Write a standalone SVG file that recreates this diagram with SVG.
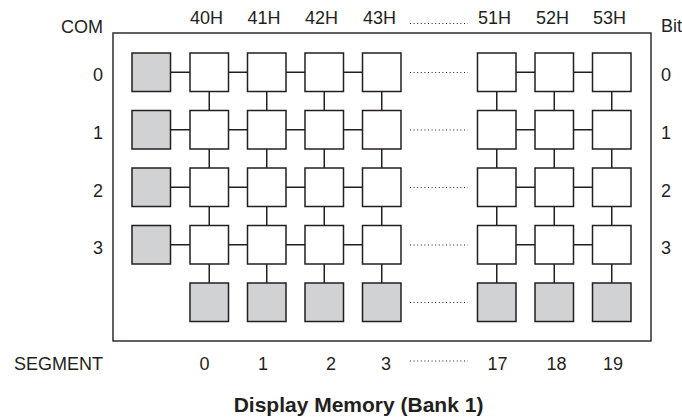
<svg xmlns="http://www.w3.org/2000/svg" width="682" height="417" viewBox="0 0 682 417">
<style>
.t{font-family:"Liberation Sans",Arial,sans-serif;font-size:18px;fill:#231f20}
.e{text-anchor:end}
.m{text-anchor:middle}
.title{font-family:"Liberation Sans",Arial,sans-serif;font-size:21px;font-weight:bold;fill:#231f20;text-anchor:middle}
.c{fill:#fff;stroke:#231f20;stroke-width:1.5}
.g{fill:#d1d2d4;stroke:#231f20;stroke-width:1.5}
.ln{stroke:#231f20;stroke-width:1.5;fill:none}
.dot{stroke:#231f20;stroke-width:1.2;stroke-dasharray:1 2.6;fill:none}
</style>
<rect x="0" y="0" width="682" height="417" fill="#fff"/>
<rect id="frame" x="113" y="33" width="538" height="308" fill="none" stroke="#231f20" stroke-width="1.4"/>
<g id="connectors">
<path class="ln" d="M170.5 72.25H190M228.5 72.25H247.5M286 72.25H305M343.5 72.25H362.5M516 72.25H535M573.5 72.25H592.5"/>
<path class="ln" d="M170.5 129.75H190M228.5 129.75H247.5M286 129.75H305M343.5 129.75H362.5M516 129.75H535M573.5 129.75H592.5"/>
<path class="ln" d="M170.5 187.25H190M228.5 187.25H247.5M286 187.25H305M343.5 187.25H362.5M516 187.25H535M573.5 187.25H592.5"/>
<path class="ln" d="M170.5 244.75H190M228.5 244.75H247.5M286 244.75H305M343.5 244.75H362.5M516 244.75H535M573.5 244.75H592.5"/>
<path class="ln" d="M209.25 91.5V283M266.75 91.5V283M324.25 91.5V283M381.75 91.5V283M496.75 91.5V283M554.25 91.5V283M611.75 91.5V283"/>
<path class="dot" d="M410 72.5H468M410 130H468M410 187.5H468M410 245H468M410 302.5H468M410 23.5H468M410 361H468"/>
</g>
<g id="com-cells">
<rect class="g" x="132" y="53" width="38.5" height="38.5"/>
<rect class="g" x="132" y="110.5" width="38.5" height="38.5"/>
<rect class="g" x="132" y="168" width="38.5" height="38.5"/>
<rect class="g" x="132" y="225.5" width="38.5" height="38.5"/>
</g>
<g id="cells">
<g id="row0">
<rect class="c" x="190" y="53" width="38.5" height="38.5"/><rect class="c" x="247.5" y="53" width="38.5" height="38.5"/><rect class="c" x="305" y="53" width="38.5" height="38.5"/><rect class="c" x="362.5" y="53" width="38.5" height="38.5"/><rect class="c" x="477.5" y="53" width="38.5" height="38.5"/><rect class="c" x="535" y="53" width="38.5" height="38.5"/><rect class="c" x="592.5" y="53" width="38.5" height="38.5"/>
</g>
<g id="row1">
<rect class="c" x="190" y="110.5" width="38.5" height="38.5"/><rect class="c" x="247.5" y="110.5" width="38.5" height="38.5"/><rect class="c" x="305" y="110.5" width="38.5" height="38.5"/><rect class="c" x="362.5" y="110.5" width="38.5" height="38.5"/><rect class="c" x="477.5" y="110.5" width="38.5" height="38.5"/><rect class="c" x="535" y="110.5" width="38.5" height="38.5"/><rect class="c" x="592.5" y="110.5" width="38.5" height="38.5"/>
</g>
<g id="row2">
<rect class="c" x="190" y="168" width="38.5" height="38.5"/><rect class="c" x="247.5" y="168" width="38.5" height="38.5"/><rect class="c" x="305" y="168" width="38.5" height="38.5"/><rect class="c" x="362.5" y="168" width="38.5" height="38.5"/><rect class="c" x="477.5" y="168" width="38.5" height="38.5"/><rect class="c" x="535" y="168" width="38.5" height="38.5"/><rect class="c" x="592.5" y="168" width="38.5" height="38.5"/>
</g>
<g id="row3">
<rect class="c" x="190" y="225.5" width="38.5" height="38.5"/><rect class="c" x="247.5" y="225.5" width="38.5" height="38.5"/><rect class="c" x="305" y="225.5" width="38.5" height="38.5"/><rect class="c" x="362.5" y="225.5" width="38.5" height="38.5"/><rect class="c" x="477.5" y="225.5" width="38.5" height="38.5"/><rect class="c" x="535" y="225.5" width="38.5" height="38.5"/><rect class="c" x="592.5" y="225.5" width="38.5" height="38.5"/>
</g>
</g>
<g id="segment-cells">
<rect class="g" x="190" y="283" width="38.5" height="38.5"/><rect class="g" x="247.5" y="283" width="38.5" height="38.5"/><rect class="g" x="305" y="283" width="38.5" height="38.5"/><rect class="g" x="362.5" y="283" width="38.5" height="38.5"/><rect class="g" x="477.5" y="283" width="38.5" height="38.5"/><rect class="g" x="535" y="283" width="38.5" height="38.5"/><rect class="g" x="592.5" y="283" width="38.5" height="38.5"/>
</g>
<g id="labels">
<text class="t e" x="103" y="33">COM</text>
<text class="t" x="661" y="32">Bit</text>
<text class="t" x="190" y="24">40H</text>
<text class="t" x="247.5" y="24">41H</text>
<text class="t" x="305" y="24">42H</text>
<text class="t" x="363" y="24">43H</text>
<text class="t" x="478" y="24">51H</text>
<text class="t" x="536" y="24">52H</text>
<text class="t" x="593" y="24">53H</text>
<text class="t e" x="103" y="81">0</text>
<text class="t e" x="103" y="139">1</text>
<text class="t e" x="103" y="196.5">2</text>
<text class="t e" x="103" y="254">3</text>
<text class="t" x="661" y="81">0</text>
<text class="t" x="661" y="139">1</text>
<text class="t" x="661" y="196.5">2</text>
<text class="t" x="661" y="254">3</text>
<text class="t e" x="103" y="370">SEGMENT</text>
<text class="t m" x="204.5" y="370">0</text>
<text class="t m" x="263" y="370">1</text>
<text class="t m" x="331" y="370">2</text>
<text class="t m" x="386" y="370">3</text>
<text class="t m" x="497.5" y="370">17</text>
<text class="t m" x="556.5" y="370">18</text>
<text class="t m" x="613" y="370">19</text>
<text class="title" x="358.5" y="412">Display Memory (Bank 1)</text>
</g>
</svg>
